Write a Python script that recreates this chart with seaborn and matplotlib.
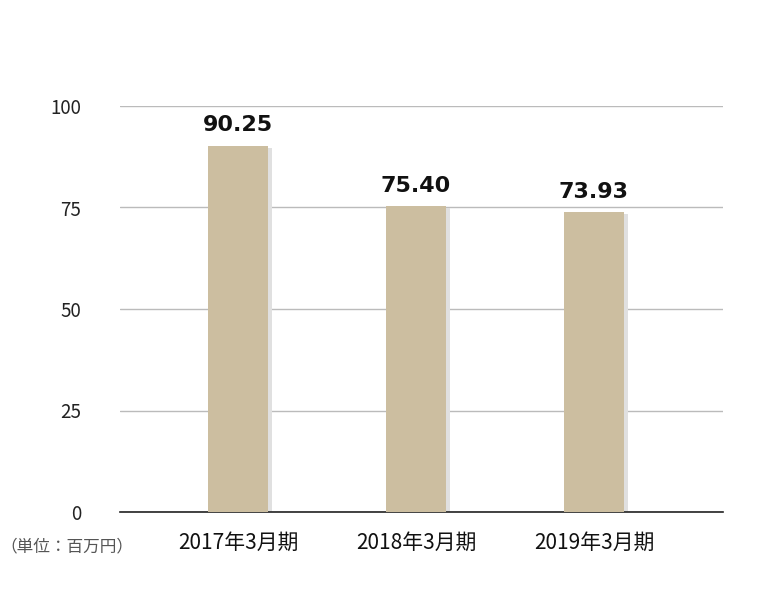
import matplotlib
matplotlib.use("Agg")
import matplotlib.pyplot as plt
import seaborn as sns
import pandas as pd

categories = ["2017年3月期", "2018年3月期", "2019年3月期"]
values = [90.25, 75.40, 73.93]
labels = ["90.25", "75.40", "73.93"]
yticks = [0, 25, 50, 75, 100]

sns.set_theme(style="white")
plt.rcParams['font.family'] = ['Noto Sans CJK JP', 'DejaVu Sans']

fig = plt.figure(figsize=(7.6, 6.0), dpi=100)
ax = fig.add_axes([120/760, 1-512/600, 603/760, 406/600])
df = pd.DataFrame({"cat": categories, "val": values})
ax.bar([i + 0.025 for i in range(3)], [v - 0.5 for v in values], width=0.337,
       color="#e0e0e0", zorder=2, linewidth=0)
sns.barplot(data=df, x="cat", y="val", color="#ccbea0", saturation=1,
            width=0.337, ax=ax, zorder=3, linewidth=0, edgecolor="none")
for i, (v, t) in enumerate(zip(values, labels)):
    ax.text(i, v + 2.5, t, ha="center", va="bottom", fontsize=16,
            color="#111111", family=['DejaVu Sans'], fontweight='semibold')
ax.set_xlim(-0.663, 2.725)
ax.set_ylim(0, 100)
ax.set_yticks(yticks)
ax.set_yticklabels([str(y) for y in yticks], fontsize=13.5, color="#222222")
ax.tick_params(axis='x', labelsize=15, colors="#111111", length=0, pad=14)
ax.tick_params(axis='y', length=0, pad=28)
ax.yaxis.grid(True, color="#bbbbbb", linewidth=1, zorder=0)
ax.set_axisbelow(True)
for s in ["top", "right", "left"]:
    ax.spines[s].set_visible(False)
ax.spines["bottom"].set_color("#222222")
ax.spines["bottom"].set_linewidth(1.2)
ax.set_xlabel("")
ax.set_ylabel("")
fig.text(0/760, 1-547/600, "（単位：百万円）", fontsize=12, color="#555555",
         ha="left", va="center")
fig.savefig("out.png", dpi=100)
